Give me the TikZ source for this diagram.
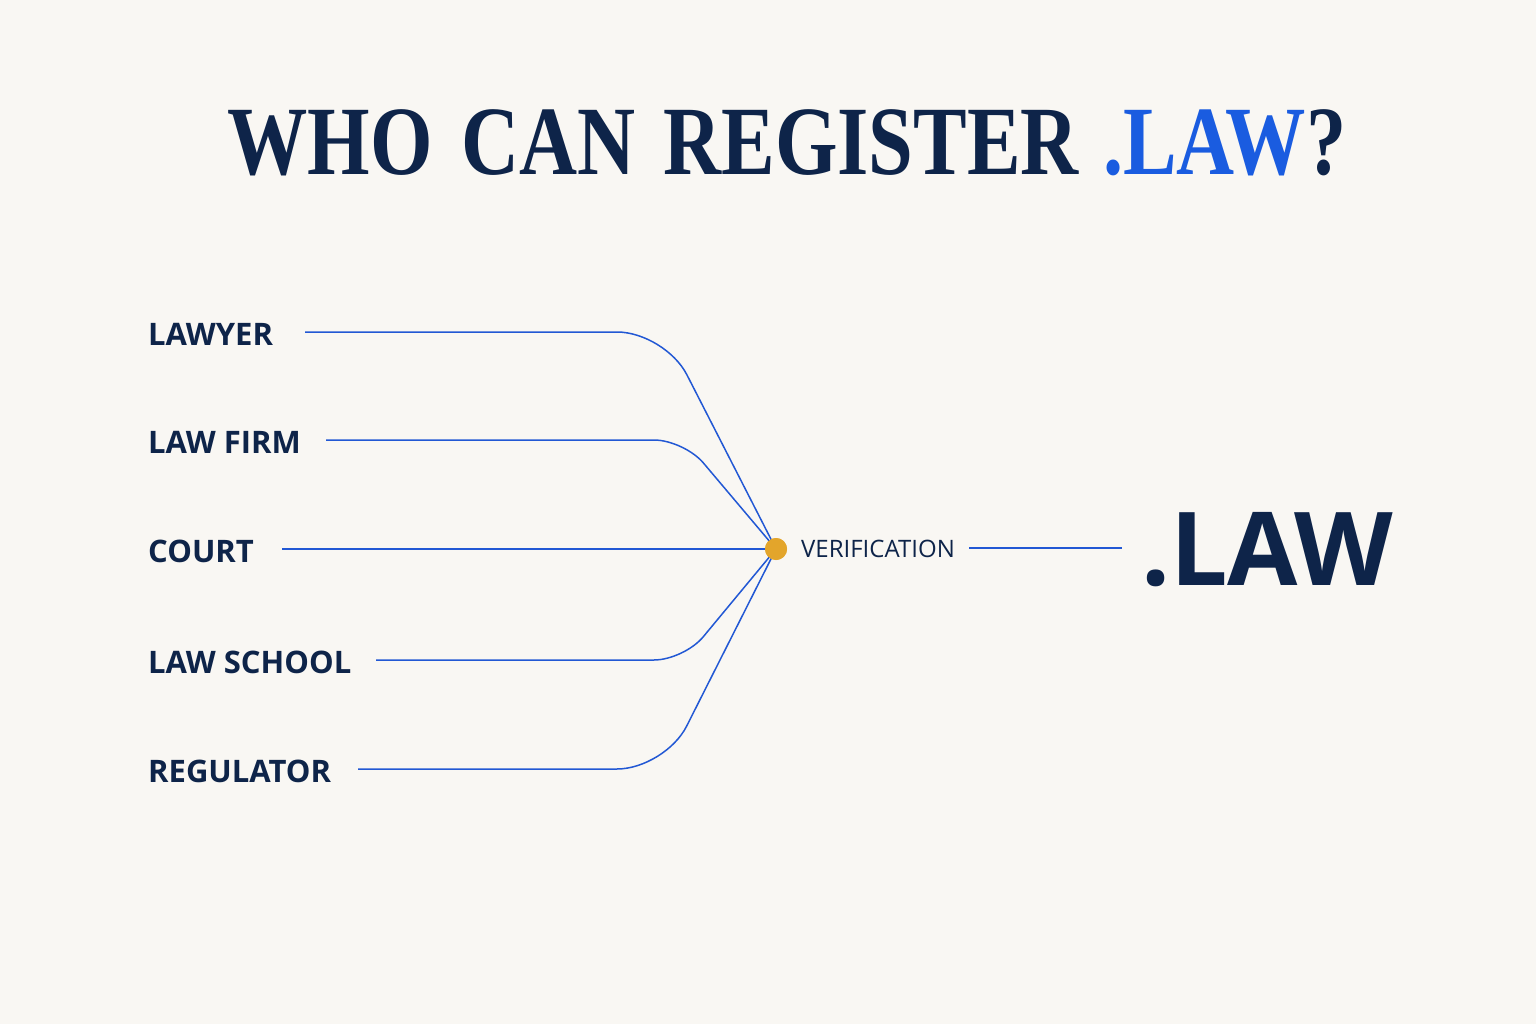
\documentclass[tikz,border=0pt]{standalone}
\usepackage{fontspec}
\setmainfont{Liberation Serif}
\newfontfamily\labfont{Open Sans}
\usepackage{graphicx}
\definecolor{bg}{HTML}{F9F7F3}
\definecolor{navy}{HTML}{0E2449}
\definecolor{titleblue}{HTML}{1A5CE0}
\definecolor{lineblue}{HTML}{2258D4}
\definecolor{dotgold}{HTML}{E3A52B}
\begin{document}
\begin{tikzpicture}[x=1pt,y=-1pt,
  lab/.style={anchor=base west,inner sep=0pt,text=navy,font=\labfont\bfseries\fontsize{31}{36}\selectfont},
  conn/.style={draw=lineblue,line width=1.5pt},
  gold/.style={circle,fill=dotgold,minimum size=22pt,inner sep=0pt},
]
\fill[bg] (0,0) rectangle (1536,1024);
\useasboundingbox (0,0) rectangle (1536,1024);

\node[anchor=base,inner sep=0pt,text=navy] (title) at (787,175)
  {\scalebox{0.82}[1]{\fontsize{98}{110}\selectfont\bfseries WHO\hspace{10pt} CAN\hspace{10pt} REGISTER\hspace{5pt} \textcolor{titleblue}{.LAW}?}};

\node[lab] (lawyer) at (148,345) {LAWYER};
\node[lab] (firm) at (148,453) {LAW FIRM};
\node[lab] (court) at (148,562) {COURT};
\node[lab] (school) at (148,673) {LAW SCHOOL};
\node[lab] (reg) at (148,782) {REGULATOR};

\coordinate (s1) at (305,332);
\coordinate (s2) at (326,440);
\coordinate (s3) at (282,549);
\coordinate (s4) at (376,660);
\coordinate (s5) at (358,769);
\coordinate (c1) at (665,332);
\coordinate (c2) at (684,440);
\coordinate (c4) at (684,660);
\coordinate (c5) at (665,769);

\node[gold] (dot) at (776,549) {};

\draw[conn,rounded corners=48pt] (s1) -- (c1) -- (dot.center);
\draw[conn,rounded corners=30pt] (s2) -- (c2) -- (dot.center);
\draw[conn] (s3) -- (dot.center);
\draw[conn,rounded corners=30pt] (s4) -- (c4) -- (dot.center);
\draw[conn,rounded corners=48pt] (s5) -- (c5) -- (dot.center);
\node[gold] at (dot) {};

\node[anchor=base west,inner sep=0pt,text=navy,font=\labfont\fontsize{24}{28}\selectfont] (verif) at (801,557) {VERIFICATION};
\coordinate (v1) at (969,548);
\coordinate (v2) at (1122,548);
\draw[conn] (v1) -- (v2);

\node[anchor=base west,inner sep=0pt,text=navy,font=\labfont\bfseries\fontsize{102}{120}\selectfont] (law) at (1141,585) {.LAW};
\end{tikzpicture}
\end{document}
